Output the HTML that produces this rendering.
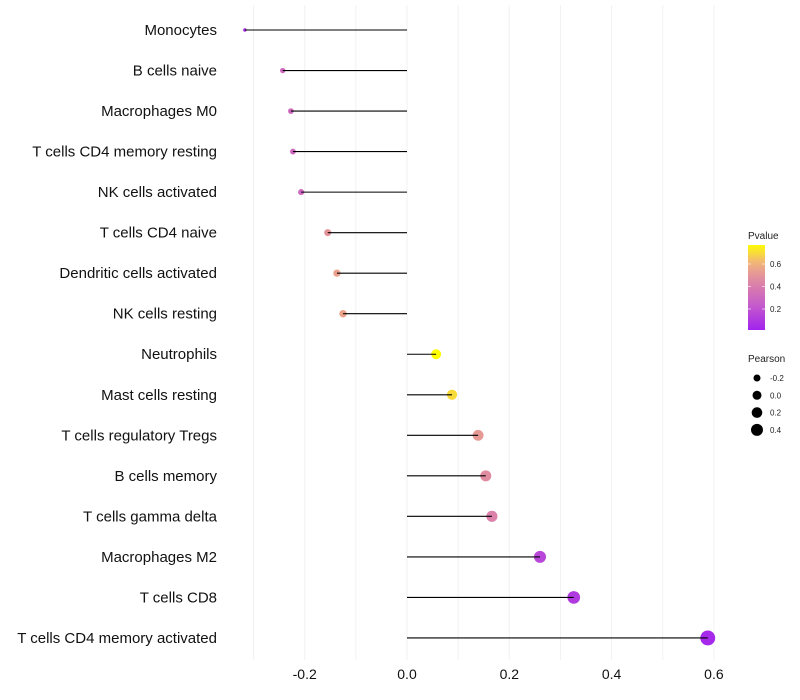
<!DOCTYPE html>
<html><head><meta charset="utf-8"><style>
body{margin:0;background:#fff;}
svg{display:block;font-family:"Liberation Sans",Arial,sans-serif;}
</style></head><body>
<svg id="chart" width="800" height="700"></svg>
<script>
const categories=["Monocytes","B cells naive","Macrophages M0","T cells CD4 memory resting","NK cells activated","T cells CD4 naive","Dendritic cells activated","NK cells resting","Neutrophils","Mast cells resting","T cells regulatory  Tregs","B cells memory","T cells gamma delta","Macrophages M2","T cells CD8","T cells CD4 memory activated"];
const pearson=[-0.317,-0.243,-0.227,-0.223,-0.207,-0.155,-0.137,-0.125,0.057,0.088,0.139,0.154,0.166,0.26,0.326,0.588];
const pvalues=[0.05,0.3,0.3,0.3,0.3,0.5,0.55,0.56,0.78,0.7,0.52,0.47,0.42,0.15,0.1,0.03];
const xTicks=[-0.2,0,0.2,0.4,0.6];
const xTickLabels=["-0.2","0.0","0.2","0.4","0.6"];
const xMinor=[-0.3,-0.1,0.1,0.3,0.5];
const pTicks=[0.2,0.4,0.6];
const sizeLegend=[-0.2,0.0,0.2,0.4];

const NS="http://www.w3.org/2000/svg";
const svg=document.getElementById('chart');
function mk(t,a,p){const e=document.createElementNS(NS,t);for(const k in a)e.setAttribute(k,a[k]);(p||svg).appendChild(e);return e;}
const x=v=>407+v*511.5;
const y=i=>30+i*40.53;
const stops=[[0,[160,32,240]],[0.25,[200,95,200]],[0.45,[222,135,165]],[0.6,[240,175,130]],[0.78,[255,255,0]]];
function col(p){p=Math.max(0,Math.min(0.78,p));for(let i=1;i<stops.length;i++){if(p<=stops[i][0]){const a=stops[i-1],b=stops[i];const t=(p-a[0])/(b[0]-a[0]);const c=a[1].map((v,j)=>Math.round(v+(b[1][j]-v)*t));return `rgb(${c})`;}}return 'rgb(255,255,0)';}
const rad=v=>Math.sqrt(Math.max(1.8,3+58*(v+0.317)));

// grid
[...xTicks,...xMinor].forEach(v=>{const g=mk('line',{x1:x(v),x2:x(v),y1:5,y2:660,stroke:'#f2f2f2','stroke-width':1});

});
xTicks.forEach((v,i)=>{const t=mk('text',{x:x(v),y:679,'text-anchor':'middle','font-size':14,fill:'#111'});t.textContent=xTickLabels[i];

});
categories.forEach((c,i)=>{const t=mk('text',{x:217,y:y(i)+5,'text-anchor':'end','font-size':15,fill:'#111'});t.textContent=c;

});
pearson.forEach((v,i)=>{const c=mk('circle',{cx:x(v),cy:y(i),r:rad(v),fill:col(pvalues[i])});

});
pearson.forEach((v,i)=>{const l=mk('line',{x1:x(0),x2:x(v),y1:y(i),y2:y(i),stroke:'#000','stroke-width':1.1});

});

// color legend
const lt=mk('text',{x:748,y:239,'font-size':10,fill:'#222'});lt.textContent='Pvalue';


const defs=mk('defs',{});const lg=mk('linearGradient',{id:'pg',x1:0,y1:1,x2:0,y2:0},defs);
for(let k=0;k<=10;k++){const p=0.013+k*(0.77-0.013)/10;mk('stop',{offset:k/10,'stop-color':col(p)},lg);}
const bar=mk('rect',{x:748,y:245,width:17,height:85,fill:'url(#pg)'});


const py=p=>330-(p-0.013)*112.5;
pTicks.forEach(p=>{mk('line',{x1:748,x2:751,y1:py(p),y2:py(p),stroke:'#fff','stroke-opacity':0.6});mk('line',{x1:762,x2:765,y1:py(p),y2:py(p),stroke:'#fff','stroke-opacity':0.6});
const t=mk('text',{x:770,y:py(p)+3,'font-size':8,fill:'#222'});t.textContent=p.toFixed(1);

});
// size legend
const st=mk('text',{x:748,y:362,'font-size':10,fill:'#222'});st.textContent='Pearson';


const lr=[3.5,4.5,5.3,6];
sizeLegend.forEach((v,i)=>{const cy=378+i*17.3;const c=mk('circle',{cx:757,cy:cy,r:lr[i],fill:'#000'});


const t=mk('text',{x:770,y:cy+3,'font-size':8,fill:'#222'});t.textContent=v.toFixed(1);

});
</script>
</body></html>
